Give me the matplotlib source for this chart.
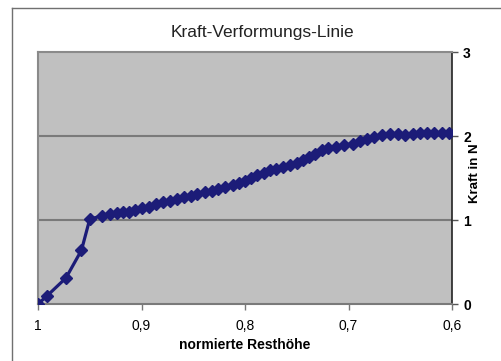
import matplotlib
matplotlib.use("Agg")
import matplotlib.pyplot as plt
from matplotlib.ticker import FuncFormatter

plt.rcParams["font.family"] = ["Liberation Sans", "DejaVu Sans"]

# normierte Resthöhe vs. Kraft in N
resthoehe = [1.000, 0.991, 0.973, 0.958, 0.950, 0.938, 0.930, 0.924, 0.918, 0.912,
             0.906, 0.900, 0.893, 0.886, 0.879, 0.872, 0.866, 0.859, 0.852, 0.846,
             0.839, 0.832, 0.826, 0.819, 0.812, 0.806, 0.800, 0.794, 0.788, 0.782,
             0.776, 0.770, 0.763, 0.757, 0.750, 0.744, 0.738, 0.732, 0.726, 0.720,
             0.712, 0.704, 0.696, 0.689, 0.682, 0.675, 0.668, 0.660, 0.652, 0.645,
             0.638, 0.631, 0.624, 0.617, 0.610, 0.603]
kraft = [0.00, 0.10, 0.31, 0.64, 1.01, 1.05, 1.07, 1.08, 1.09, 1.10,
         1.12, 1.14, 1.16, 1.19, 1.21, 1.23, 1.25, 1.27, 1.29, 1.31,
         1.33, 1.35, 1.37, 1.39, 1.42, 1.44, 1.47, 1.50, 1.53, 1.56,
         1.59, 1.61, 1.63, 1.65, 1.68, 1.71, 1.75, 1.79, 1.83, 1.86,
         1.87, 1.89, 1.91, 1.94, 1.97, 1.99, 2.01, 2.02, 2.02, 2.01,
         2.02, 2.04, 2.04, 2.04, 2.04, 2.04]
x_ticks = [1.0, 0.9, 0.8, 0.7, 0.6]
y_ticks = [0, 1, 2, 3]

fig = plt.figure(figsize=(5.02, 3.61), dpi=100)
fig.patch.set_facecolor("white")
ax = fig.add_axes([38 / 502, 1 - 304 / 361, (452 - 38) / 502, (304 - 52) / 361])

# outer chart frame (only top/left visible, rest runs off the image)
fig.add_artist(plt.Line2D([12 / 502, 1], [1 - 8 / 361] * 2, color="#707070", lw=1))
fig.add_artist(plt.Line2D([12 / 502] * 2, [0, 1 - 8 / 361], color="#707070", lw=1))

ax.set_facecolor("#c0c0c0")
ax.plot(resthoehe, kraft, color="#1c1c78", lw=2.3, marker="D", markersize=6.5,
        markeredgecolor="#1c1c78", zorder=3)

ax.set_xlim(1.0, 0.6)
ax.set_ylim(0, 3)
ax.set_xticks(x_ticks)
ax.set_yticks(y_ticks)
ax.xaxis.set_major_formatter(FuncFormatter(lambda v, p: "1" if v == 1 else f"{v:.1f}".replace(".", ",")))
ax.yaxis.tick_right()
ax.yaxis.set_label_position("right")
for lab in ax.get_yticklabels():
    lab.set_fontweight("bold")
ax.tick_params(axis="y", length=4, width=1, labelsize=10, pad=4, color="#555555")
ax.tick_params(axis="x", length=4, width=1, labelsize=10, pad=7, color="#777777")

for y in [1, 2]:
    ax.axhline(y, color="#7a7a7a", lw=1.5, zorder=1)

for side in ["left", "top"]:
    ax.spines[side].set_color("#8a8a8a")
    ax.spines[side].set_linewidth(1.5)
ax.spines["bottom"].set_color("#7a7a7a")
ax.spines["bottom"].set_linewidth(1.5)
ax.spines["right"].set_color("#222222")
ax.spines["right"].set_linewidth(1.2)

ax.set_xlabel("normierte Resthöhe", fontsize=10, fontweight="bold", labelpad=0)
ax.set_ylabel("Kraft in N", fontsize=9.5, fontweight="bold", labelpad=2)
ax.yaxis.set_label_coords(1.04, 0.52)
ax.xaxis.set_label_coords(0.5, -0.135)

fig.text(262 / 502, 1 - 32 / 361, "Kraft-Verformungs-Linie", fontsize=12.5,
         ha="center", va="center", color="#222222")

fig.savefig("out.png", dpi=100)
